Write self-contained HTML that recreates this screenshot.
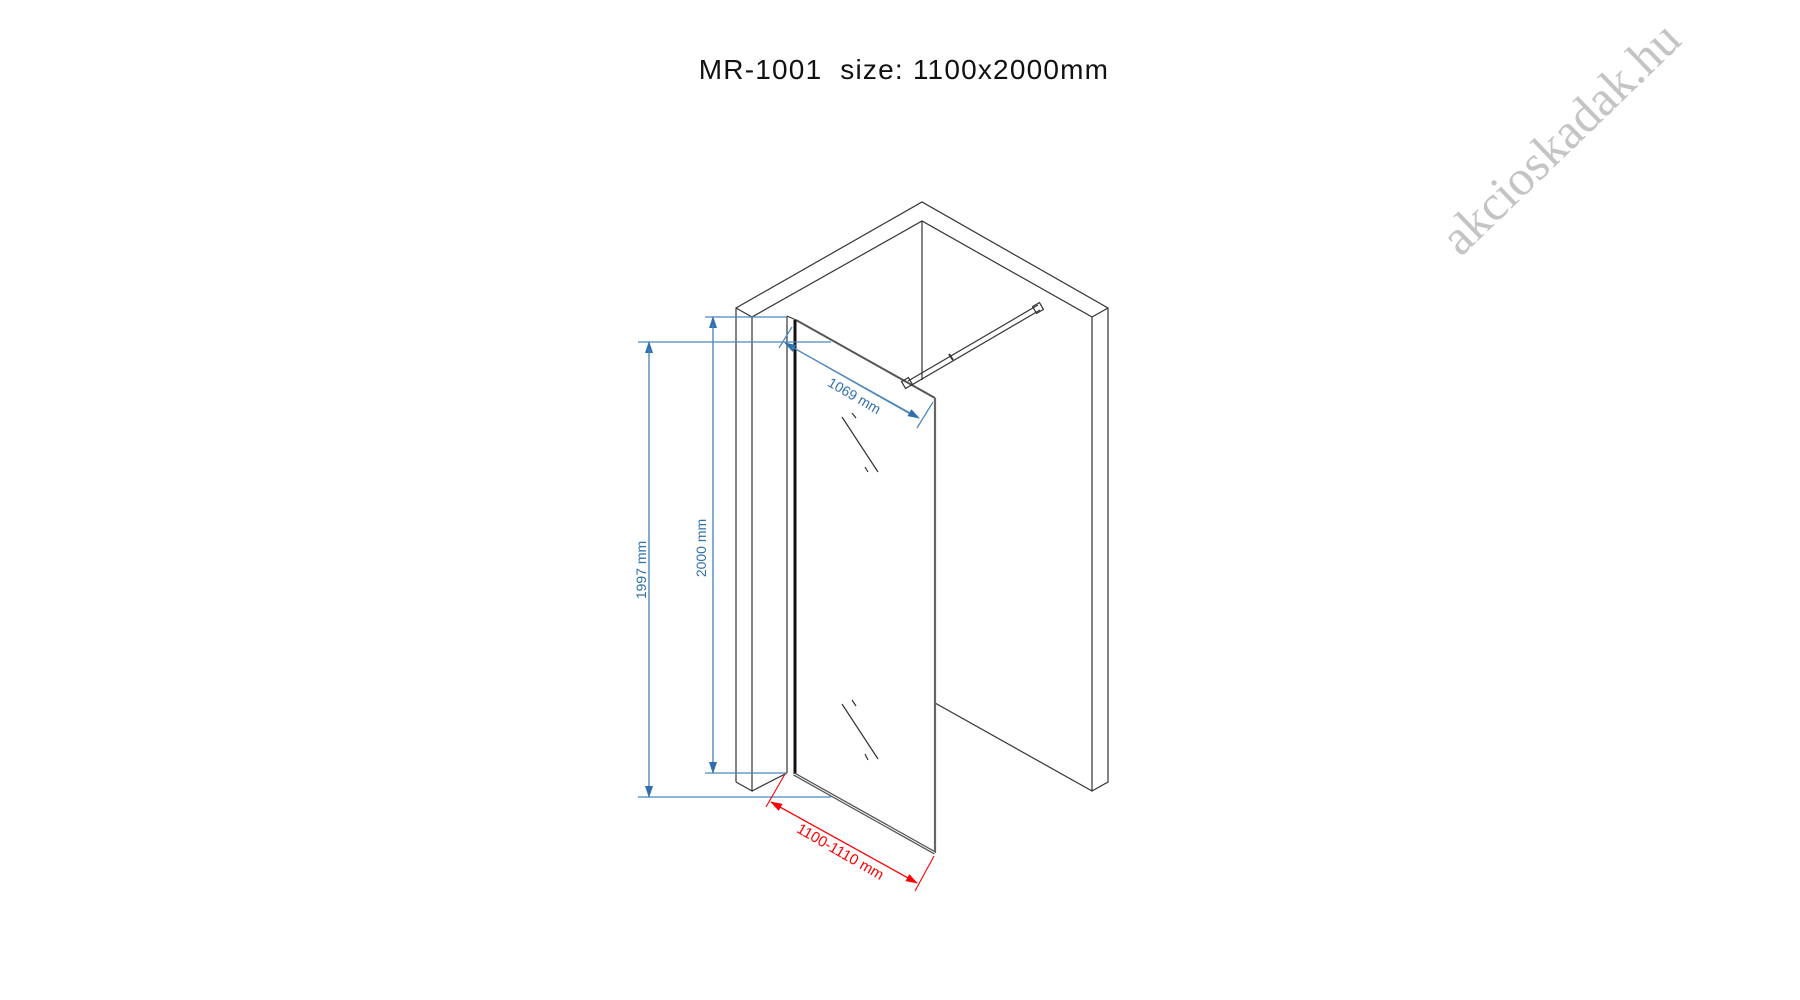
<!DOCTYPE html>
<html><head><meta charset="utf-8"><style>
html,body{margin:0;padding:0;background:#fff;}
svg{display:block;}
</style></head><body>
<svg width="1800" height="1000" viewBox="0 0 1800 1000" xmlns="http://www.w3.org/2000/svg">
<defs>
<marker id="ab" markerWidth="12" markerHeight="10" refX="11" refY="5" orient="auto" markerUnits="userSpaceOnUse"><path d="M0,1 L12,5 L0,9 Z" fill="#2f6fad"/></marker>
<marker id="ar" markerWidth="12" markerHeight="10" refX="11" refY="5" orient="auto" markerUnits="userSpaceOnUse"><path d="M0,1 L12,5 L0,9 Z" fill="#f00"/></marker>
</defs>
<text x="904" y="79" font-family="Liberation Sans, sans-serif" font-size="28" letter-spacing="1.2" text-anchor="middle" fill="#111">MR-1001&#160;&#160;size: 1100x2000mm</text>
<text x="0" y="0" transform="translate(1572,150) rotate(-44)" font-family="Liberation Serif, serif" font-size="50" fill="#c4c4c4" text-anchor="middle">akcioskadak.hu</text>

<g fill="none" stroke="#333" stroke-width="1.2">
<polyline points="736,782 736,308 922,202 1108,308 1108,782 1092,791 1092,317 922,221 752,317 752,791 736,782"/>
<line x1="736" y1="308" x2="752" y2="317"/>
<line x1="1108" y1="308" x2="1092" y2="317"/>
<line x1="922" y1="221" x2="922" y2="380"/>
<line x1="752" y1="791" x2="787" y2="773"/>
<line x1="935" y1="703" x2="1092" y2="791"/>
<line x1="787" y1="316" x2="787" y2="773"/>
<line x1="787" y1="316" x2="796" y2="320"/>
<line x1="796" y1="320" x2="935" y2="398" stroke="#555" stroke-width="2"/>
<line x1="935" y1="398" x2="935" y2="853" stroke="#666" stroke-width="2.2"/>
<line x1="795" y1="320" x2="795" y2="774" stroke="#111" stroke-width="3"/>
<line x1="794" y1="774" x2="935" y2="853" stroke="#555" stroke-width="3.5"/>
<line x1="794" y1="774" x2="935" y2="853" stroke="#fff" stroke-width="1"/>
<line x1="908" y1="381" x2="1038" y2="305"/>
<line x1="910" y1="386" x2="1040" y2="310"/>
<rect x="903" y="379" width="8" height="8" transform="rotate(-30 907 383)"/>
<rect x="1034" y="304" width="8" height="8" transform="rotate(-30 1038 308)"/>
<line x1="949" y1="354" x2="953" y2="360" stroke-width="2"/>
<line x1="842" y1="417" x2="878" y2="472"/>
<line x1="852" y1="413" x2="856" y2="418"/>
<line x1="865" y1="467" x2="868" y2="472"/>
<line x1="842" y1="704" x2="878" y2="759"/>
<line x1="852" y1="700" x2="856" y2="706"/>
<line x1="865" y1="754" x2="868" y2="760"/>
</g>

<g stroke="#4a86bd" stroke-width="1.2" fill="none">
<line x1="705" y1="317" x2="787" y2="317"/>
<line x1="638" y1="342" x2="831" y2="342"/>
<line x1="705" y1="773" x2="787" y2="773"/>
<line x1="638" y1="797" x2="831" y2="797"/>
<line x1="713" y1="766" x2="713" y2="317" marker-end="url(#ab)"/>
<line x1="713" y1="324" x2="713" y2="773" marker-end="url(#ab)"/>
<line x1="649" y1="790" x2="649" y2="342" marker-end="url(#ab)"/>
<line x1="649" y1="349" x2="649" y2="797" marker-end="url(#ab)"/>
<line x1="779" y1="348" x2="792" y2="327"/>
<line x1="917" y1="428" x2="933" y2="402"/>
<line x1="912" y1="415" x2="785" y2="343" marker-end="url(#ab)"/>
<line x1="792" y1="347" x2="919" y2="418" marker-end="url(#ab)"/>
</g>
<g font-family="Liberation Sans, sans-serif" font-size="14" fill="#2f6fad">
<text transform="translate(706,548) rotate(-90)" text-anchor="middle">2000 mm</text>
<text transform="translate(646,570) rotate(-90)" text-anchor="middle">1997 mm</text>
<text transform="translate(852,400) rotate(30)" text-anchor="middle">1069 mm</text>
</g>

<g stroke="#f00" stroke-width="1.1" fill="none">
<line x1="766" y1="807" x2="785" y2="774"/>
<line x1="915" y1="891" x2="934" y2="856"/>
<line x1="910" y1="879" x2="771" y2="802" marker-end="url(#ar)"/>
<line x1="778" y1="806" x2="917" y2="883" marker-end="url(#ar)"/>
</g>
<text transform="translate(838,856) rotate(30)" text-anchor="middle" font-family="Liberation Sans, sans-serif" font-size="15" fill="#f00">1100-1110 mm</text>
</svg>
</body></html>
